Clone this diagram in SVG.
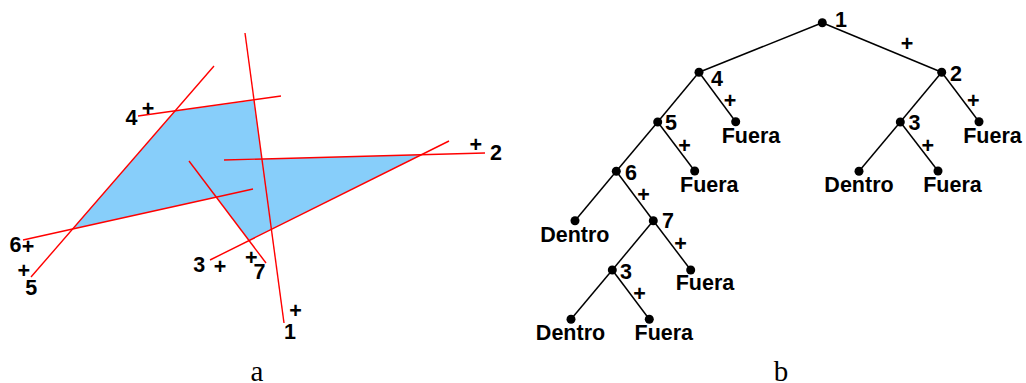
<svg xmlns="http://www.w3.org/2000/svg" width="1026" height="383" viewBox="0 0 1026 383">
<style>
.t{font-family:"Liberation Sans",Arial,sans-serif;font-weight:bold;font-size:21.5px;fill:#000;text-anchor:middle}
.cap{font-family:"Liberation Serif","Times New Roman",serif;font-size:29px;fill:#000;text-anchor:middle}
.rl{stroke:#ff0000;stroke-width:1.4;fill:none}
.e{stroke:#000;stroke-width:1.5;fill:none}
.d{fill:#000}
</style>
<g id="figure-a">
  <polygon id="region" points="175,111 254,100.5 262,159 421.5,154.7 249,240.6 216.3,197.2 72.7,229" fill="#87cefa" stroke="none"/>
  <g id="lines">
    <line id="line1" class="rl" x1="245" y1="33" x2="284" y2="323"/>
    <line id="line2" class="rl" x1="224" y1="160" x2="485" y2="153"/>
    <line id="line3" class="rl" x1="210" y1="260" x2="449" y2="141"/>
    <line id="line4" class="rl" x1="138" y1="116" x2="281" y2="96"/>
    <line id="line5" class="rl" x1="31" y1="277" x2="214" y2="66"/>
    <line id="line6" class="rl" x1="23" y1="240" x2="253" y2="189"/>
    <line id="line7" class="rl" x1="189" y1="161" x2="266" y2="263"/>
  </g>
  <g id="labels-a">
    <text class="t" x="131.5" y="125">4</text>
    <text class="t" x="148" y="115.5">+</text>
    <text class="t" x="496" y="160">2</text>
    <text class="t" x="475.7" y="152">+</text>
    <text class="t" x="199.3" y="271.7">3</text>
    <text class="t" x="220" y="274">+</text>
    <text class="t" x="259.5" y="279.3">7</text>
    <text class="t" x="251.3" y="265.4">+</text>
    <text class="t" x="290" y="339.3">1</text>
    <text class="t" x="295.5" y="317.7">+</text>
    <text class="t" x="15.5" y="251.7">6</text>
    <text class="t" x="28" y="253.7">+</text>
    <text class="t" x="23.8" y="277.7">+</text>
    <text class="t" x="31.3" y="295">5</text>
  </g>
  <text class="cap" x="257" y="380.5">a</text>
</g>
<g id="figure-b">
  <g id="connectors">
    <line class="e" x1="822.3" y1="22.7" x2="699" y2="72.3"/>
    <line class="e" x1="822.3" y1="22.7" x2="941.7" y2="72.3"/>
    <line class="e" x1="699" y1="72.3" x2="657.7" y2="122"/>
    <line class="e" x1="699" y1="72.3" x2="735.7" y2="121.7"/>
    <line class="e" x1="657.7" y1="122" x2="616.3" y2="171.3"/>
    <line class="e" x1="657.7" y1="122" x2="694.7" y2="171"/>
    <line class="e" x1="616.3" y1="171.3" x2="575" y2="220.7"/>
    <line class="e" x1="616.3" y1="171.3" x2="653.3" y2="220.7"/>
    <line class="e" x1="653.3" y1="220.7" x2="612.3" y2="270"/>
    <line class="e" x1="653.3" y1="220.7" x2="690.7" y2="270"/>
    <line class="e" x1="612.3" y1="270" x2="571" y2="319.3"/>
    <line class="e" x1="612.3" y1="270" x2="649.3" y2="319.3"/>
    <line class="e" x1="941.7" y1="72.3" x2="900.3" y2="122"/>
    <line class="e" x1="941.7" y1="72.3" x2="979" y2="121.7"/>
    <line class="e" x1="900.3" y1="122" x2="859" y2="171.3"/>
    <line class="e" x1="900.3" y1="122" x2="938" y2="171"/>
  </g>
  <g id="edge-labels">
    <text class="t" x="907" y="50.7">+</text>
    <text class="t" x="730" y="108">+</text>
    <text class="t" x="684.5" y="153.2">+</text>
    <text class="t" x="643.5" y="202">+</text>
    <text class="t" x="680.5" y="251.2">+</text>
    <text class="t" x="639.5" y="301.2">+</text>
    <text class="t" x="973.3" y="108">+</text>
    <text class="t" x="927.8" y="153">+</text>
  </g>
  <g id="n1"><circle class="d" cx="822.3" cy="22.7" r="4.5"/><text class="t" x="841" y="26.7">1</text></g>
  <g id="n4"><circle class="d" cx="699" cy="72.3" r="4.5"/><text class="t" x="717" y="85.7">4</text></g>
  <g id="n2"><circle class="d" cx="941.7" cy="72.3" r="4.5"/><text class="t" x="956" y="81">2</text></g>
  <g id="n5"><circle class="d" cx="657.7" cy="122" r="4.5"/><text class="t" x="671" y="130">5</text></g>
  <g id="n4-fuera"><circle class="d" cx="735.7" cy="121.7" r="4.5"/><text class="t" x="751" y="142.7">Fuera</text></g>
  <g id="n3a"><circle class="d" cx="900.3" cy="122" r="4.5"/><text class="t" x="914.5" y="130">3</text></g>
  <g id="n2-fuera"><circle class="d" cx="979" cy="121.7" r="4.5"/><text class="t" x="992.5" y="142.7">Fuera</text></g>
  <g id="n6"><circle class="d" cx="616.3" cy="171.3" r="4.5"/><text class="t" x="631" y="180">6</text></g>
  <g id="n5-fuera"><circle class="d" cx="694.7" cy="171" r="4.5"/><text class="t" x="709.3" y="191.7">Fuera</text></g>
  <g id="n3a-dentro"><circle class="d" cx="859" cy="171.3" r="4.5"/><text class="t" x="859" y="191.7">Dentro</text></g>
  <g id="n3a-fuera"><circle class="d" cx="938" cy="171" r="4.5"/><text class="t" x="952.5" y="191.7">Fuera</text></g>
  <g id="n6-dentro"><circle class="d" cx="575" cy="220.7" r="4.5"/><text class="t" x="574.8" y="242">Dentro</text></g>
  <g id="n7"><circle class="d" cx="653.3" cy="220.7" r="4.5"/><text class="t" x="668" y="228.3">7</text></g>
  <g id="n3b"><circle class="d" cx="612.3" cy="270" r="4.5"/><text class="t" x="626" y="279">3</text></g>
  <g id="n7-fuera"><circle class="d" cx="690.7" cy="270" r="4.5"/><text class="t" x="705" y="290">Fuera</text></g>
  <g id="n3b-dentro"><circle class="d" cx="571" cy="319.3" r="4.5"/><text class="t" x="570.5" y="340">Dentro</text></g>
  <g id="n3b-fuera"><circle class="d" cx="649.3" cy="319.3" r="4.5"/><text class="t" x="663.8" y="340">Fuera</text></g>
  <text class="cap" x="781" y="380.5">b</text>
</g>
</svg>
